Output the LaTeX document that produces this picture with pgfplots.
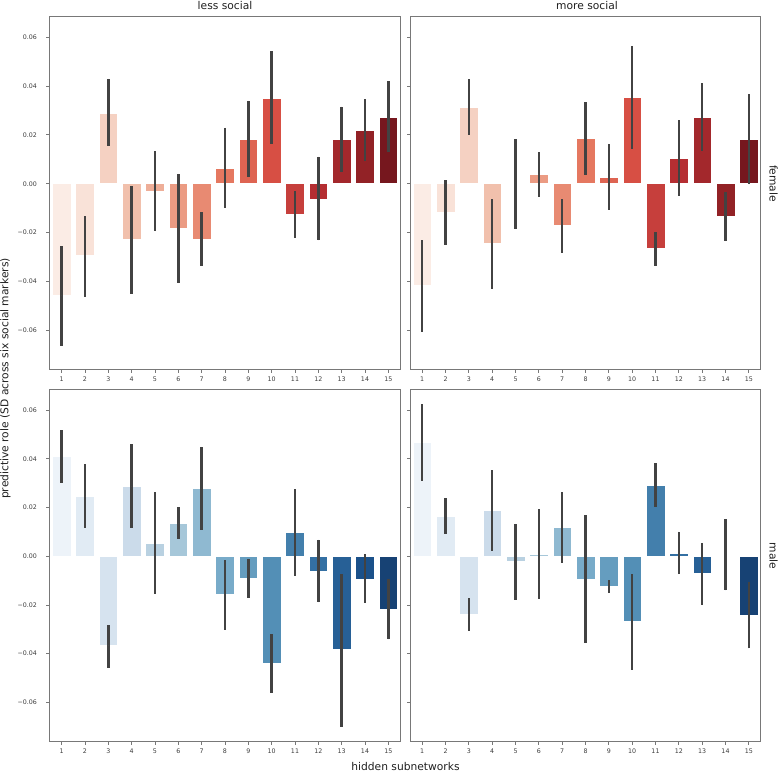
\documentclass[border=0pt]{standalone}
\usepackage{pgfplots}
\pgfplotsset{compat=1.18}
\usepackage{pgfplotstable}
\usepackage{fontspec}
\setmainfont{DejaVu Sans}

\definecolor{R0}{RGB}{251,236,229}
\definecolor{R1}{RGB}{249,226,216}
\definecolor{R2}{RGB}{245,209,194}
\definecolor{R3}{RGB}{241,192,172}
\definecolor{R4}{RGB}{238,174,152}
\definecolor{R5}{RGB}{235,155,131}
\definecolor{R6}{RGB}{232,138,114}
\definecolor{R7}{RGB}{229,120,96}
\definecolor{R8}{RGB}{222,100,82}
\definecolor{R9}{RGB}{215,79,68}
\definecolor{R10}{RGB}{198,63,60}
\definecolor{R11}{RGB}{181,46,50}
\definecolor{R12}{RGB}{163,40,44}
\definecolor{R13}{RGB}{146,34,38}
\definecolor{R14}{RGB}{118,23,30}
\definecolor{B0}{RGB}{237,243,249}
\definecolor{B1}{RGB}{225,235,244}
\definecolor{B2}{RGB}{214,227,239}
\definecolor{B3}{RGB}{203,219,234}
\definecolor{B4}{RGB}{185,209,225}
\definecolor{B5}{RGB}{166,199,217}
\definecolor{B6}{RGB}{143,185,209}
\definecolor{B7}{RGB}{120,171,201}
\definecolor{B8}{RGB}{101,157,191}
\definecolor{B9}{RGB}{83,143,182}
\definecolor{B10}{RGB}{67,127,172}
\definecolor{B11}{RGB}{52,112,163}
\definecolor{B12}{RGB}{39,96,150}
\definecolor{B13}{RGB}{27,81,138}
\definecolor{B14}{RGB}{23,66,116}
\definecolor{errc}{RGB}{66,66,66}
\definecolor{framec}{RGB}{120,120,120}
\definecolor{tickc}{RGB}{60,60,60}

% female, less social
\pgfplotstableread{
x y lo hi
0 -0.0458 -0.0663 -0.0257
1 -0.0295 -0.0462 -0.0131
2 0.0290 0.0153 0.0431
3 -0.0228 -0.0451 -0.0008
4 -0.0030 -0.0195 0.0133
5 -0.0183 -0.0407 0.0041
6 -0.0226 -0.0336 -0.0116
7 0.0064 -0.0100 0.0230
8 0.0182 0.0026 0.0340
9 0.0351 0.0161 0.0543
10 -0.0124 -0.0221 -0.0029
11 -0.0062 -0.0232 0.0111
12 0.0182 0.0049 0.0316
13 0.0217 0.0092 0.0346
14 0.0273 0.0131 0.0420
}\fless
% female, more social
\pgfplotstableread{
x y lo hi
0 -0.0417 -0.0606 -0.0230
1 -0.0116 -0.0253 0.0016
2 0.0313 0.0198 0.0428
3 -0.0246 -0.0433 -0.0062
4 -0.0003 -0.0186 0.0182
5 0.0037 -0.0053 0.0129
6 -0.0171 -0.0283 -0.0062
7 0.0186 0.0037 0.0334
8 0.0027 -0.0107 0.0163
9 0.0353 0.0141 0.0565
10 -0.0265 -0.0335 -0.0198
11 0.0105 -0.0049 0.0261
12 0.0272 0.0135 0.0411
13 -0.0134 -0.0235 -0.0033
14 0.0183 0.0000 0.0366
}\fmore
% male, less social
\pgfplotstableread{
x y lo hi
0 0.0410 0.0301 0.0519
1 0.0245 0.0114 0.0379
2 -0.0367 -0.0458 -0.0281
3 0.0286 0.0116 0.0460
4 0.0052 -0.0156 0.0262
5 0.0134 0.0070 0.0201
6 0.0278 0.0107 0.0449
7 -0.0158 -0.0301 -0.0016
8 -0.0089 -0.0170 -0.0010
9 -0.0438 -0.0560 -0.0318
10 0.0097 -0.0081 0.0275
11 -0.0060 -0.0190 0.0068
12 -0.0384 -0.0700 -0.0071
13 -0.0093 -0.0192 0.0008
14 -0.0219 -0.0342 -0.0095
}\mless
% male, more social
\pgfplotstableread{
x y lo hi
0 0.0467 0.0310 0.0625
1 0.0166 0.0092 0.0241
2 -0.0240 -0.0307 -0.0173
3 0.0188 0.0022 0.0353
4 -0.0022 -0.0179 0.0134
5 0.0008 -0.0175 0.0193
6 0.0119 -0.0027 0.0263
7 -0.0093 -0.0356 0.0168
8 -0.0125 -0.0152 -0.0096
9 -0.0268 -0.0466 -0.0075
10 0.0292 0.0203 0.0382
11 0.0012 -0.0073 0.0101
12 -0.0071 -0.0201 0.0055
13 0.0004 -0.0140 0.0151
14 -0.0244 -0.0378 -0.0107
}\mmore

\pgfplotsset{
  panel/.style={
    scale only axis, anchor=north west,
    width=350pt,
    xmin=-0.5, xmax=14.5, ymin=-0.0759, ymax=0.0687,
    scaled y ticks=false, scaled x ticks=false,
    xtick={0,1,2,3,4,5,6,7,8,9,10,11,12,13,14},
    xticklabels={1,2,3,4,5,6,7,8,9,10,11,12,13,14,15},
    ytick={-0.06,-0.04,-0.02,0,0.02,0.04,0.06},
    tick align=outside, xtick pos=bottom, ytick pos=left,
    major tick length=3.5pt,
    tick style={framec, line width=0.8pt},
    axis line style={framec, line width=1pt},
    ticklabel style={font=\fontsize{6.3}{7}\selectfont, text=tickc},
    xticklabel style={yshift=-0.5pt},
    yticklabel style={xshift=-6pt},
  },
  leftpanel/.style={yticklabels={−0.06,−0.04,−0.02,0.00,0.02,0.04,0.06}},
  rightpanel/.style={yticklabels={}},
}

\newcommand{\bars}[2]{%
  \pgfplotsinvokeforeach{0,...,14}{%
    \addplot[ybar, bar width=0.8, bar shift=0pt, fill=#2##1, draw=white, line width=0.6pt,
      restrict x to domain=##1:##1,
      error bars/.cd, y dir=both, y explicit,
      error bar style={line width=2.6pt, draw=errc}, error mark=none]
      table[x=x, y=y, y error plus expr=\thisrow{hi}-\thisrow{y},
            y error minus expr=\thisrow{y}-\thisrow{lo}]{#1};
  }%
}

\begin{document}
\begin{tikzpicture}[x=1pt,y=1pt]
\path[use as bounding box] (0,0) rectangle (779,-772);

\begin{axis}[panel, leftpanel, at={(50pt,-16pt)}, height=353pt]
\bars{\fless}{R}
\end{axis}
\begin{axis}[panel, rightpanel, at={(410.5pt,-16pt)}, height=353pt]
\bars{\fmore}{R}
\end{axis}
\begin{axis}[panel, leftpanel, at={(50pt,-389pt)}, height=352pt]
\bars{\mless}{B}
\end{axis}
\begin{axis}[panel, rightpanel, at={(410.5pt,-389pt)}, height=352pt]
\bars{\mmore}{B}
\end{axis}

\begin{scope}[every node/.style={font=\fontsize{10.7}{12}\selectfont, text=black!88, inner sep=0pt}]
\node[anchor=base] at (225,-9.3) {less social};
\node[anchor=base] at (587,-9.3) {more social};
\node[anchor=base, rotate=-90] at (769.5,-183.5) {female};
\node[anchor=base, rotate=-90] at (769.5,-556) {male};
\node[anchor=base, rotate=90] at (8.5,-378.5) {predictive role (SD across six social markers)};
\node[anchor=base] at (405.5,-770.5) {hidden subnetworks};
\end{scope}
\end{tikzpicture}
\end{document}
